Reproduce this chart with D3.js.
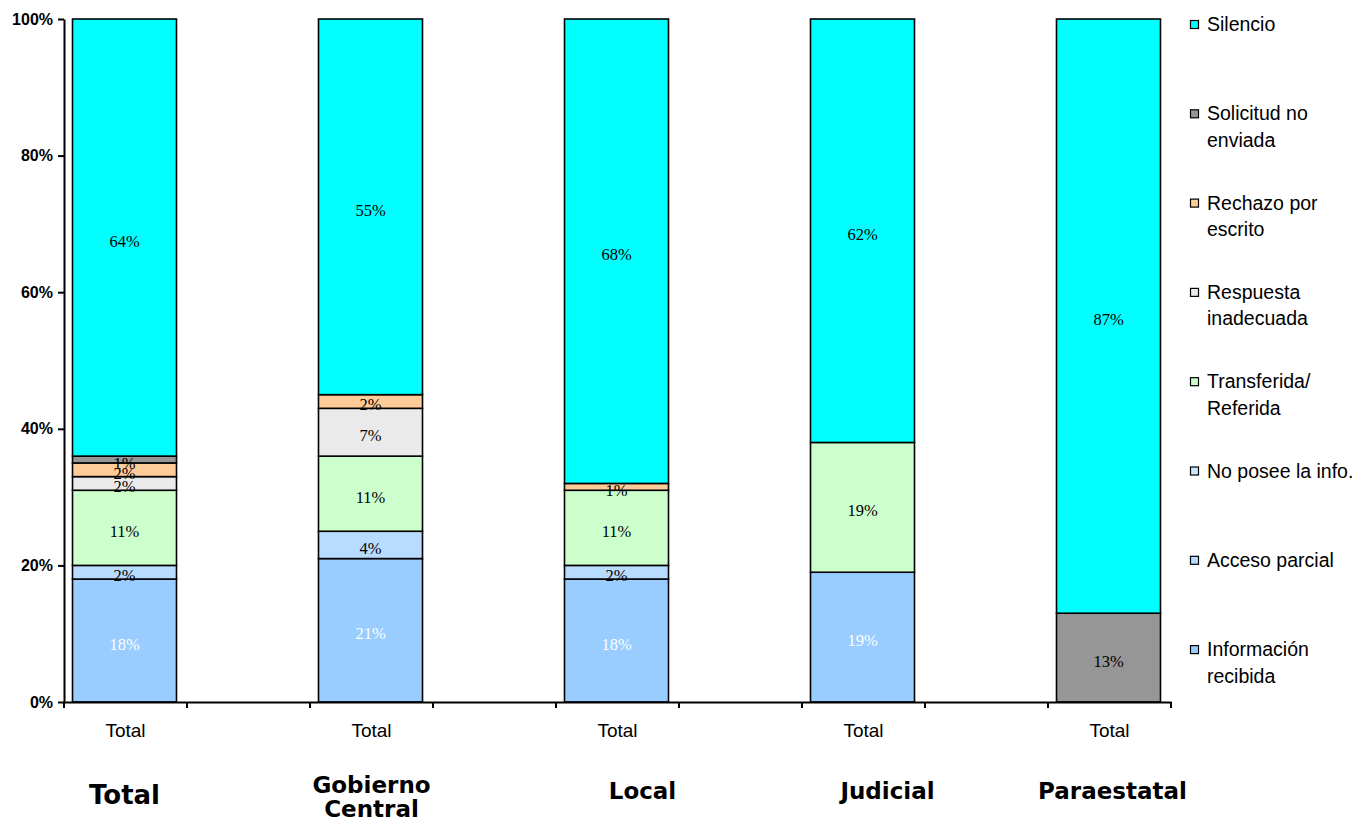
<!DOCTYPE html>
<html>
<head>
<meta charset="utf-8">
<script src="https://cdn.jsdelivr.net/npm/d3@7"></script>
<style>
  html, body { margin: 0; padding: 0; background: #fff; }
  svg { display: block; }
</style>
</head>
<body>
<svg id="chart" width="1357" height="823"></svg>
<script>
// ---------- DATA ----------
const categories = ["Total", "Gobierno Central", "Local", "Judicial", "Paraestatal"];
const tickLabels = ["Total", "Total", "Total", "Total", "Total"];
const yTicks = [0, 0.2, 0.4, 0.6, 0.8, 1.0];

// series, bottom to top of each stack (values in %)
const seriesNames = ["Información recibida", "Acceso parcial", "No posee la info.", "Transferida/ Referida",
                     "Respuesta inadecuada", "Rechazo por escrito", "Solicitud no enviada", "Silencio"];
const informacionRecibida = [18, 21, 18, 19, 0];
const accesoParcial       = [2, 4, 2, 0, 0];
const noPosee             = [0, 0, 0, 0, 0];
const transferida         = [11, 11, 11, 19, 0];
const respuestaInadecuada = [2, 7, 0, 0, 0];
const rechazo             = [2, 2, 1, 0, 0];
const solicitudNoEnviada  = [1, 0, 0, 0, 13];
const silencio            = [64, 55, 68, 62, 87];
const seriesValues = [informacionRecibida, accesoParcial, noPosee, transferida,
                      respuestaInadecuada, rechazo, solicitudNoEnviada, silencio];

// legend (top to bottom), with line breaks
const legendLines = [
  ["Silencio"], ["Solicitud no", "enviada"], ["Rechazo por", "escrito"], ["Respuesta", "inadecuada"],
  ["Transferida/", "Referida"], ["No posee la info."], ["Acceso parcial"], ["Información", "recibida"]
];
const groupLines = [["Total"], ["Gobierno", "Central"], ["Local"], ["Judicial"], ["Paraestatal"]];

// ---------- STYLE / LAYOUT ----------
const colors = ["#99CCFF", "#B8DCFF", "#CCE8FF", "#CCFFCC", "#EAEAEA", "#FFCC99", "#969696", "#00FFFF"];
const labelColors = ["#ffffff", "#000", "#000", "#000", "#000", "#000", "#000", "#000"];
const groupDx = [-1, 0, 25, 24, 3];
const groupSize = [26, 23, 23, 23, 23];
const groupBaseline = [804, 793, 799, 799, 799];

const svg = d3.select("#chart");
const plotLeft = 64, plotRight = 1171, plotTop = 19, plotBottom = 702;
const nSlots = categories.length * 2 - 1;

const x = d3.scaleBand().domain(d3.range(nSlots)).range([plotLeft, plotRight]).padding(0);
const y = d3.scaleLinear().domain([0, 1]).range([plotBottom, plotTop]);
const barW = 104;

// build table
const table = categories.map((c, i) => {
  const row = { cat: c, slot: i * 2 };
  seriesNames.forEach((s, k) => row[s] = seriesValues[k][i] / 100);
  return row;
});
const stacked = d3.stack().keys(seriesNames)(table);

const gBars = svg.append("g");
stacked.forEach((layer, k) => {
  const g = gBars.append("g");
  layer.forEach(d => {
    if (d[1] - d[0] <= 0) return;
    g.append("rect")
      .attr("x", x(d.data.slot) + (x.bandwidth() - barW) / 2 - 1)
      .attr("y", y(d[1]))
      .attr("width", barW)
      .attr("height", y(d[0]) - y(d[1]))
      .attr("fill", colors[k])
      .attr("stroke", "#000")
      .attr("stroke-width", 1.6);
  });
});
// labels
stacked.forEach((layer, k) => {
  layer.forEach(d => {
    const v = d[1] - d[0];
    if (v <= 0) return;
    svg.append("text")
      .attr("x", x(d.data.slot) + x.bandwidth() / 2 - 1)
      .attr("y", (y(d[0]) + y(d[1])) / 2 + 9)
      .attr("text-anchor", "middle")
      .attr("font-family", "'Liberation Serif', 'Times New Roman', serif")
      .attr("font-size", 16.5)
      .attr("fill", labelColors[k])
      .text(d3.format(".0%")(v));
  });
});

// Y axis
const yAxis = d3.axisLeft(y).tickValues(yTicks).tickFormat(d3.format(".0%"))
  .tickSize(6).tickSizeOuter(0).tickPadding(5);
const gy = svg.append("g").attr("transform", `translate(${plotLeft},0)`).call(yAxis);
gy.select(".domain").attr("stroke", "#000").attr("stroke-width", 2);
gy.selectAll(".tick line").attr("stroke", "#000").attr("stroke-width", 2);
gy.selectAll(".tick text").attr("font-family", "'Liberation Sans', Arial, sans-serif")
  .attr("font-size", 16).attr("font-weight", "bold").attr("fill", "#000");

// X axis
const xAxis = d3.axisBottom(x).tickSize(0).tickPadding(22)
  .tickFormat(s => s % 2 === 0 ? tickLabels[s / 2] : "");
const gx = svg.append("g").attr("transform", `translate(0,${plotBottom})`).call(xAxis);
gx.select(".domain").attr("stroke", "#000").attr("stroke-width", 2);
gx.selectAll(".tick text").attr("font-family", "'Liberation Sans', Arial, sans-serif")
  .attr("font-size", 19).attr("fill", "#000");
const bounds = x.domain().map(s => x(s)).concat([plotRight]);
gx.selectAll(".bound").data(bounds).join("line")
  .attr("x1", d => d).attr("x2", d => d).attr("y1", 0).attr("y2", 6)
  .attr("stroke", "#000").attr("stroke-width", 2);

// Group labels
groupLines.forEach((lines, i) => {
  const cx = x(i * 2) + x.bandwidth() / 2 + groupDx[i];
  const t = svg.append("text")
    .attr("text-anchor", "middle")
    .attr("font-family", "'DejaVu Sans', Verdana, sans-serif")
    .attr("font-weight", "bold")
    .attr("font-size", groupSize[i])
    .attr("fill", "#000");
  lines.forEach((ln, j) => {
    t.append("tspan").attr("x", cx).attr("y", groupBaseline[i] + j * 24).text(ln);
  });
});

// Legend
const legendColors = colors.slice().reverse();
const gl = svg.append("g");
legendLines.forEach((lines, i) => {
  const base = 31 + i * 89.3;
  gl.append("rect").attr("x", 1190.5).attr("y", base - 10.5).attr("width", 8).attr("height", 8)
    .attr("fill", legendColors[i]).attr("stroke", "#000").attr("stroke-width", 1.2);
  const t = gl.append("text")
    .attr("font-family", "'Liberation Sans', Arial, sans-serif")
    .attr("font-size", 19.5).attr("fill", "#000");
  lines.forEach((ln, j) => {
    t.append("tspan").attr("x", 1207).attr("y", base + j * 26.5).text(ln);
  });
});
</script>
</body>
</html>
